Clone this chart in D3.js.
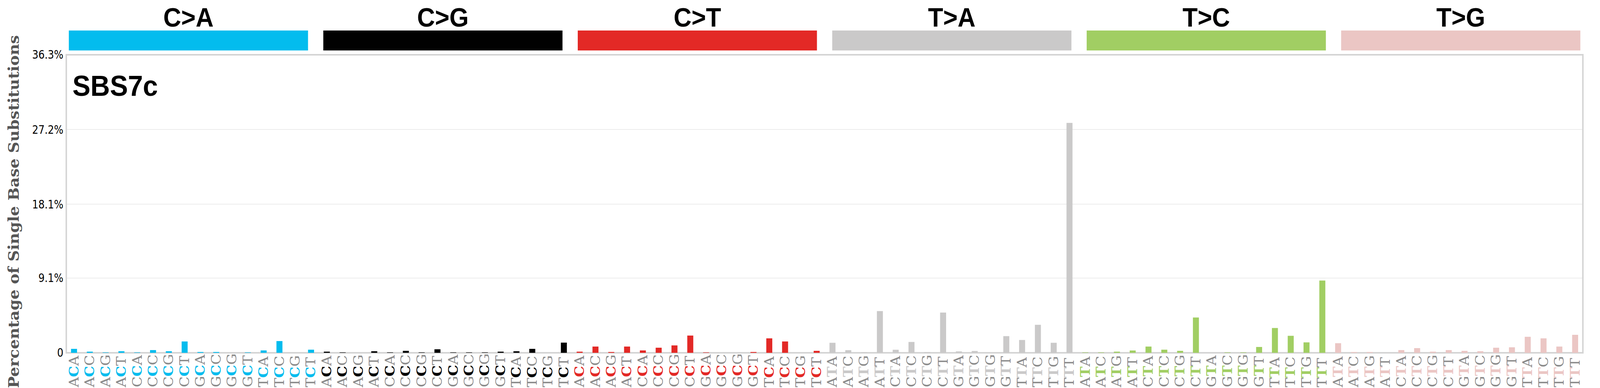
<!DOCTYPE html>
<html><head><meta charset="utf-8">
<script src="https://cdn.jsdelivr.net/npm/d3@7"></script>
<style>html,body{margin:0;padding:0;background:#fff;overflow:hidden}svg{display:block;width:100vw;height:100vh}</style></head>
<body><svg id="c" viewBox="0 0 4393 992" preserveAspectRatio="none"></svg>
<script>
const types = ["C>A","C>G","C>T","T>A","T>C","T>G"];
const colors = ["#03BCEE","#010101","#E32926","#CAC9C9","#A1CE63","#EBC6C4"];
const contexts = ["A_A","A_C","A_G","A_T","C_A","C_C","C_G","C_T","G_A","G_C","G_G","G_T","T_A","T_C","T_G","T_T"];
const valsCA = [0.48,0.14,0.05,0.19,0.05,0.33,0.19,1.38,0.10,0.10,0.00,0.05,0.29,1.43,0.00,0.38];
const valsCG = [0.14,0.05,0.00,0.19,0.05,0.24,0.05,0.43,0.05,0.05,0.05,0.14,0.19,0.48,0.00,1.24];
const valsCT = [0.14,0.76,0.10,0.76,0.29,0.62,0.90,2.10,0.05,0.00,0.00,0.10,1.76,1.38,0.00,0.24];
const valsTA = [1.22,0.32,0.05,5.08,0.37,1.32,0.08,4.90,0.17,0.22,0.00,2.03,1.56,3.41,1.22,28.0];
const valsTC = [0.05,0.05,0.14,0.28,0.76,0.38,0.24,4.30,0.00,0.05,0.05,0.71,3.02,2.07,1.27,8.80];
const valsTG = [1.17,0.10,0.10,0.00,0.33,0.57,0.14,0.33,0.24,0.19,0.62,0.67,1.95,1.76,0.76,2.19];
const yTicks = [0, 9.1, 18.1, 27.2, 36.3];
const yTickLabels = ["0","9.1%","18.1%","27.2%","36.3%"];
const allVals = [valsCA,valsCG,valsCT,valsTA,valsTC,valsTG];

const data = [];
types.forEach((t,i)=>contexts.forEach((c,j)=>{
  data.push({type:i, ctx:c, ref:t[0], key:t+c, v:allVals[i][j]});
}));

const svg = d3.select("#c");
const L=182, R=4346, T=140, B=902;
const x = d3.scaleBand().domain(data.map(d=>d.key)).range([L,R]).paddingInner(0.62).paddingOuter(0.3);
const y = d3.scaleLinear().domain([0,36.3]).range([B,T]);
const g = d3.scaleBand().domain(types).range([L,R]).paddingInner(0.06).paddingOuter(0.01);

svg.append("g").selectAll("line").data(yTicks.slice(1,4)).join("line")
  .attr("x1",L).attr("x2",R).attr("y1",d=>y(d)).attr("y2",d=>y(d))
  .attr("stroke","#ececec").attr("stroke-width",2);
svg.append("rect").attr("x",L).attr("y",T).attr("width",R-L).attr("height",B-T)
  .attr("fill","none").attr("stroke","#d4d4d4").attr("stroke-width",4);

svg.append("g").selectAll("text").data(yTicks).join("text")
  .attr("x",L-8).attr("y",d=>y(d)).attr("dy","0.35em").attr("text-anchor","end")
  .attr("font-family","DejaVu Sans Condensed, DejaVu Sans").attr("font-size",30)
  .text((d,i)=>yTickLabels[i]);

svg.append("text").attr("transform",`translate(52,${(T+B)/2+20}) rotate(-90)`)
  .attr("text-anchor","middle").attr("font-family","DejaVu Serif").attr("font-weight","bold")
  .attr("font-size",40).attr("fill","#555").text("Percentage of Single Base Substitutions");

svg.append("g").selectAll("rect").data(data).join("rect")
  .attr("x",d=>x(d.key)).attr("width",x.bandwidth())
  .attr("y",d=>y(d.v)).attr("height",d=>B-y(d.v)).attr("fill",d=>colors[d.type]);

svg.append("g").selectAll("rect").data(types).join("rect")
  .attr("x",d=>g(d)).attr("width",g.bandwidth()).attr("y",78).attr("height",51)
  .attr("fill",(d,i)=>colors[i]);
svg.append("g").selectAll("text").data(types).join("text")
  .attr("x",d=>g(d)+g.bandwidth()/2).attr("y",68).attr("text-anchor","middle")
  .attr("font-family","Liberation Sans, Arial").attr("font-weight","bold")
  .attr("font-size",68).text(d=>d);

svg.append("text").attr("x",199).attr("y",245).attr("font-family","Liberation Sans, Arial")
  .attr("font-weight","bold").attr("font-size",74).text("SBS7c");

const lab = svg.append("g").selectAll("text").data(data).join("text")
  .attr("transform",d=>`translate(${x(d.key)+x.bandwidth()/2+12},990) rotate(-90)`)
  .attr("font-family","DejaVu Serif").attr("font-size",36);
lab.append("tspan").attr("fill","#8a8a8a").text(d=>d.ctx[0]);
lab.append("tspan").attr("fill",d=>colors[d.type]).attr("font-weight","bold").text(d=>d.ref);
lab.append("tspan").attr("fill","#8a8a8a").text(d=>d.ctx[2]);
</script></body></html>
